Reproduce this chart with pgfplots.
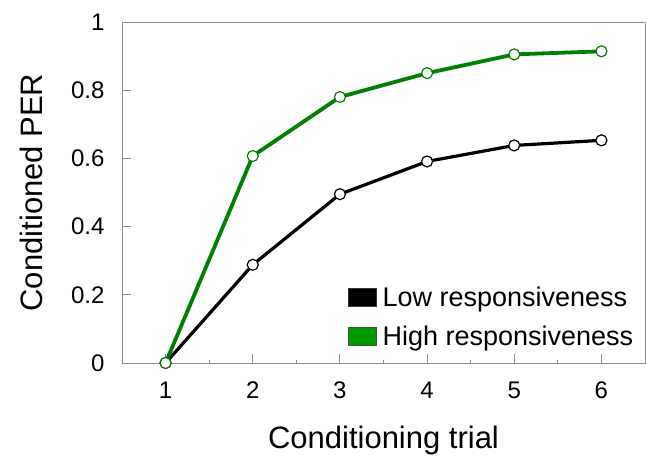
\documentclass[border=0pt]{standalone}
\usepackage{pgfplots}
\pgfplotsset{compat=1.18}
\usepackage{fontspec}
\setmainfont{Liberation Sans}
\definecolor{lineg}{RGB}{0,128,0}
\definecolor{legg}{RGB}{0,153,0}
\definecolor{axgray}{RGB}{140,140,140}

\begin{document}
\begin{tikzpicture}
\begin{axis}[
name=ax,
width=523pt,
height=341pt,
scale only axis,
xmin=0.5, xmax=6.5,
ymin=0, ymax=1,
axis line style={axgray, line width=0.9pt},
tick style={axgray, line width=0.9pt},
tick align=inside,
major tick length=9pt,
minor tick length=3pt,
xtick={1,2,3,4,5,6},
minor x tick num=1,
ytick={0,0.2,0.4,0.6,0.8,1},
xtick pos=bottom,
ytick pos=left,
/pgf/number format/assume math mode=true,
ticklabel style={font=\fontsize{24}{28}\selectfont},
yticklabel style={xshift=-14pt},
xticklabel style={yshift=-15pt},
xlabel={Conditioning trial},
ylabel={Conditioned PER},
every axis x label/.style={at={(rel axis cs:0.5,0)}, yshift=-77pt, anchor=center,
  font=\fontsize{31}{36}\selectfont},
every axis y label/.style={at={(rel axis cs:0,0.5)}, xshift=-91pt, anchor=center, rotate=90,
  font=\fontsize{31}{36}\selectfont},
legend style={draw=none, fill=none, at={(rel axis cs:0.432,0.04)}, anchor=south west,
  font=\fontsize{27}{32}\selectfont, row sep=14pt, column sep=4pt, inner sep=0pt},
legend cell align=left,
legend image code/.code={\draw[#1] (0pt,-9pt) rectangle (28pt,9pt);},
]
\addlegendimage{fill=black, draw=black!80, line width=0.5pt}
\addlegendentry{Low responsiveness}
\addlegendimage{fill=legg, draw=black!70, line width=0.5pt}
\addlegendentry{High responsiveness}

\addplot[black, line width=3.2pt, mark=*, mark size=5.5pt,
  mark options={fill=white, draw=black, line width=1.2pt}, forget plot]
table{
1 0
2 0.288
3 0.495
4 0.591
5 0.638
6 0.653
};
\addplot[lineg, line width=3.8pt, mark=*, mark size=5.5pt,
  mark options={fill=white, draw=lineg, line width=1.2pt}, forget plot]
table{
1 0
2 0.607
3 0.780
4 0.850
5 0.905
6 0.914
};
\end{axis}
\path[use as bounding box] ([xshift=-122pt,yshift=-96pt]ax.south west) rectangle ([xshift=1pt,yshift=22pt]ax.north east);
\end{tikzpicture}
\end{document}
